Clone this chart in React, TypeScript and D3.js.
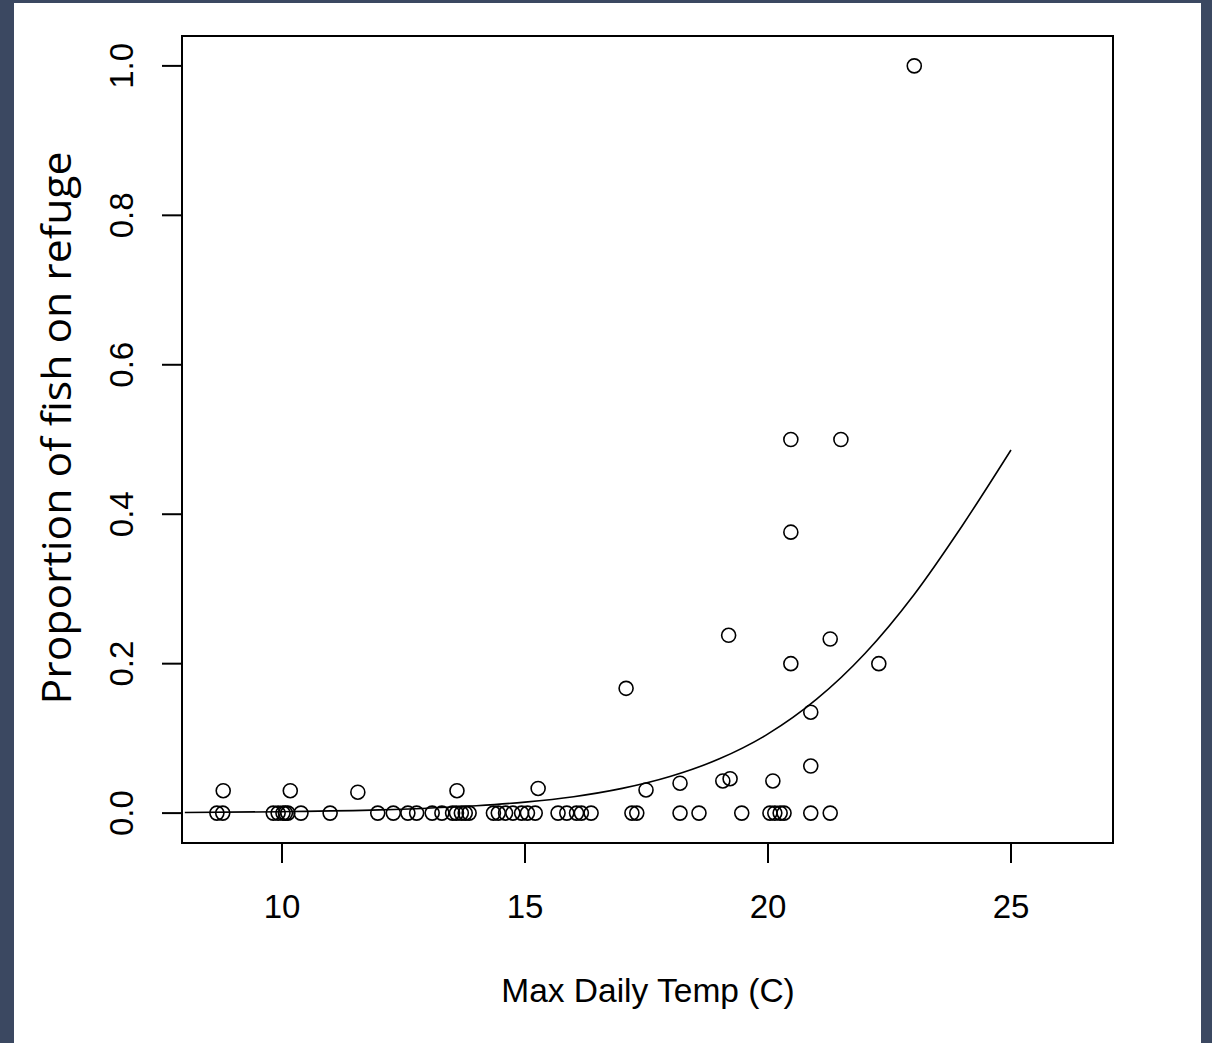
import React from "react";
import * as d3 from "d3";

// Observed points: max daily temperature vs proportion of fish on refuge
const tempX = [
  8.66, 8.78, 8.79,
  9.82, 9.92, 10.02, 10.07, 10.12, 10.17, 10.39, 10.99,
  11.56,
  11.97, 12.29, 12.59, 12.77, 13.09, 13.29,
  13.51, 13.59, 13.69, 13.77, 13.85, 13.6,
  14.35, 14.45, 14.6, 14.75, 14.93, 15.05, 15.21,
  15.27,
  15.68, 15.86, 16.06, 16.16, 16.36,
  17.08, 17.2, 17.3, 17.49,
  18.19, 18.58, 18.19,
  19.07, 19.22, 19.19, 19.46,
  20.04, 20.14, 20.25, 20.33, 20.1,
  20.47, 20.47, 20.47,
  20.88, 20.88, 20.88,
  21.28, 21.28, 21.5, 22.28, 23.01,
];
const propY = [
  0, 0, 0.03,
  0, 0, 0, 0, 0, 0.03, 0, 0,
  0.028,
  0, 0, 0, 0, 0, 0,
  0, 0, 0, 0, 0, 0.03,
  0, 0, 0, 0, 0, 0, 0,
  0.033,
  0, 0, 0, 0, 0,
  0.167, 0, 0, 0.031,
  0, 0, 0.04,
  0.043, 0.046, 0.238, 0,
  0, 0, 0, 0, 0.043,
  0.5, 0.376, 0.2,
  0.135, 0.063, 0,
  0.233, 0, 0.5, 0.2, 1.0,
];

// Fitted curve
const curveX = [8, 10, 12, 14, 15, 16, 17, 18, 19, 20, 21, 22, 23, 24, 25];
const curveY = [0.0008, 0.0019, 0.0043, 0.0098, 0.0147, 0.022, 0.0331, 0.0493, 0.0727, 0.106, 0.1525, 0.214, 0.292, 0.385, 0.486];

const xTicks = [10, 15, 20, 25];
const yTicks = [0, 0.2, 0.4, 0.6, 0.8, 1.0];

const xTitle = "Max Daily Temp (C)";
const yTitle = "Proportion of fish on refuge";

const W = 1212;
const H = 1043;
const box = { left: 182, top: 36, right: 1113, bottom: 843 };

export default function App() {
  const x = d3.scaleLinear().domain([7.942, 27.099]).range([box.left, box.right]);
  const y = d3.scaleLinear().domain([-0.04, 1.04]).range([box.bottom, box.top]);

  const line = d3
    .line<number>()
    .x((_, i) => x(curveX[i]))
    .y((d) => y(d))
    .curve(d3.curveMonotoneX);

  const tickFont = "'Liberation Sans', Arial, Helvetica, sans-serif";

  return (
    <div style={{ position: "fixed", left: 0, top: 0 }}>
      <svg width={W} height={H} style={{ display: "block" }}>
        <rect x={0} y={0} width={W} height={H} fill="#3b4861" />
        <rect x={14} y={3} width={1187} height={H - 3} fill="#ffffff" />

        {/* box */}
        <rect
          x={box.left}
          y={box.top}
          width={box.right - box.left}
          height={box.bottom - box.top}
          fill="none"
          stroke="#000"
          strokeWidth={2}
        />

        {/* x axis ticks */}
        {xTicks.map((t) => (
          <g key={"xt" + t}>
            <line x1={x(t)} x2={x(t)} y1={box.bottom} y2={box.bottom + 20} stroke="#000" strokeWidth={2} />
            <text
              x={x(t)}
              y={906}
              textAnchor="middle"
              dominantBaseline="central"
              fontFamily={tickFont}
              fontSize={33}
              fill="#000"
            >
              {t}
            </text>
          </g>
        ))}

        {/* y axis ticks */}
        {yTicks.map((t) => (
          <g key={"yt" + t}>
            <line x1={box.left - 20} x2={box.left} y1={y(t)} y2={y(t)} stroke="#000" strokeWidth={2} />
            <text
              transform={`translate(121,${y(t)}) rotate(-90)`}
              textAnchor="middle"
              dominantBaseline="central"
              fontFamily={tickFont}
              fontSize={33}
              fill="#000"
            >
              {t.toFixed(1)}
            </text>
          </g>
        ))}

        {/* axis titles */}
        <text
          x={648}
          y={990}
          textAnchor="middle"
          dominantBaseline="central"
          fontFamily={tickFont}
          fontSize={33.5}
          fill="#000"
        >
          {xTitle}
        </text>
        <text
          transform={`translate(55,428) rotate(-90)`}
          textAnchor="middle"
          dominantBaseline="central"
          fontFamily="'Open Sans', 'Noto Sans', sans-serif"
          fontSize={40}
          textLength={553}
          lengthAdjust="spacingAndGlyphs"
          fill="#000"
        >
          {yTitle}
        </text>

        {/* fitted curve */}
        <path d={line(curveY) || ""} fill="none" stroke="#000" strokeWidth={1.6} />

        {/* points */}
        {tempX.map((v, i) => (
          <circle
            key={"p" + i}
            cx={x(v)}
            cy={y(propY[i])}
            r={7}
            fill="none"
            stroke="#000"
            strokeWidth={1.6}
          />
        ))}
      </svg>
    </div>
  );
}
